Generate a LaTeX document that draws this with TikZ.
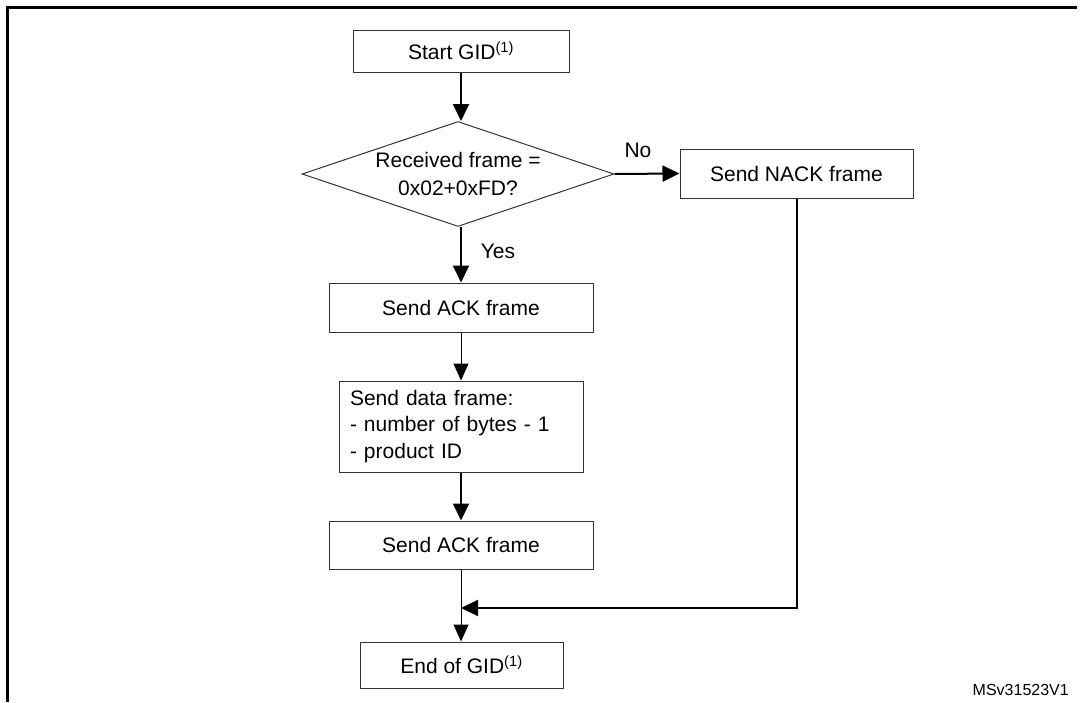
\documentclass[tikz,border=0pt]{standalone}
\usepackage{fontspec}
\setmainfont{Liberation Sans}
\usetikzlibrary{shapes.geometric,arrows.meta}
\begin{document}
\begin{tikzpicture}[x=1pt,y=-1pt,
  box/.style={draw=black!80, line width=1pt, rectangle, inner sep=0pt, font=\fontsize{21}{26.5}\selectfont},
  decision/.style={draw=black!80, line width=1pt, diamond, inner sep=0pt},
  boldarrow/.style={line width=2pt, -{Triangle[length=17pt,width=16pt]}},
  thinarrow/.style={line width=1pt, -{Triangle[length=17pt,width=15pt]}},
  lbl/.style={font=\fontsize{21}{25}\selectfont, inner sep=0pt},
  sup/.style={}]
\useasboundingbox (0,0) rectangle (1082,702);
\draw[line width=3pt] (1077,7.5) -- (7.5,7.5) -- (7.5,702);

\node[box, minimum width=216pt, minimum height=42pt] (start) at (461,51) {Start GID\textsuperscript{(1)}};
\node[decision, minimum width=312pt, minimum height=105pt] (dec) at (458,174) {};
\node[lbl, align=center, font=\fontsize{21}{28}\selectfont] (dectext) at (dec.center) {Received frame =\\0x02+0xFD?};
\node[box, minimum width=233pt, minimum height=49pt] (nack) at (796.5,173.5) {Send NACK frame};
\node[box, minimum width=264pt, minimum height=49pt] (ack1) at (461,307.5) {Send ACK frame};
\node[box, minimum width=244pt, minimum height=91pt, text width=222pt, inner xsep=11pt, align=left] (data) at (461,426.5) {Send data frame:\\- number of bytes - 1\\- product ID};
\node[box, minimum width=264pt, minimum height=48pt] (ack2) at (461,545) {Send ACK frame};
\node[box, minimum width=203pt, minimum height=46pt] (end) at (461.5,665) {End of GID\textsuperscript{(1)}};

\node[lbl] (no) at (638,150) {No};
\node[lbl] (yes) at (498,251) {Yes};
\node[font=\fontsize{16}{19}\selectfont, inner sep=0pt, anchor=base east] (ref) at (1069,695) {MSv31523V1};

\coordinate (m) at (461,608);

\draw[boldarrow] (start.south) -- (start.south |- dec.north);
\draw[boldarrow] (dec.east) -- (nack.west);
\draw[boldarrow] (dec.south -| ack1.north) -- (ack1.north);
\draw[thinarrow] (ack1.south) -- (data.north);
\draw[boldarrow] (data.south) -- (ack2.north);
\draw[thinarrow] (ack2.south) -- (end.north -| ack2.south);
\draw[boldarrow] (nack.south) |- (m);
\end{tikzpicture}
\end{document}
